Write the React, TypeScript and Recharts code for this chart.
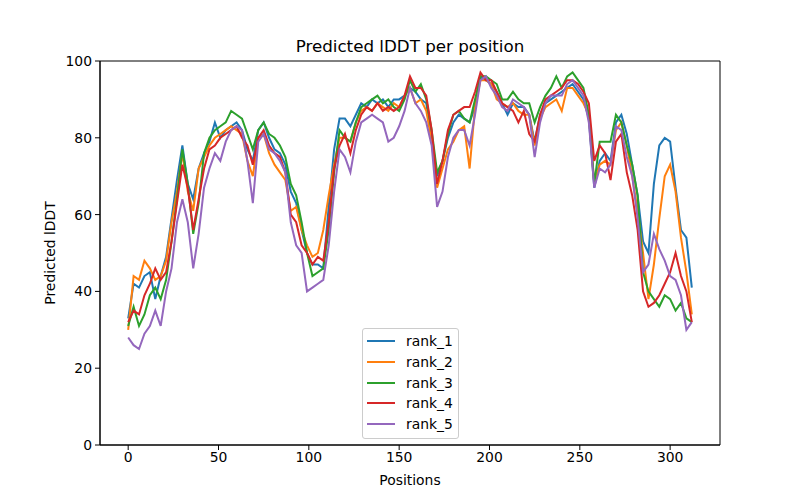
import React from 'react';
import { LineChart, Line, XAxis, YAxis, ReferenceArea } from 'recharts';

const positions = [
  0, 3, 6, 9, 12, 15, 18, 21, 24, 27, 30, 33, 36, 39, 42, 45, 48, 51, 54, 57,
  60, 63, 66, 69, 72, 75, 78, 81, 84, 87, 90, 93, 96, 99, 102, 105, 108, 111, 114, 117,
  120, 123, 126, 129, 132, 135, 138, 141, 144, 147, 150, 153, 156, 159, 162, 165, 168, 171, 174, 177,
  180, 183, 186, 189, 192, 195, 198, 201, 204, 207, 210, 213, 216, 219, 222, 225, 228, 231, 234, 237,
  240, 243, 246, 249, 252, 255, 258, 261, 264, 267, 270, 273, 276, 279, 282, 285, 288, 291, 294, 297,
  300, 303, 306, 309, 312,
];

const rank1 = [
  33, 42, 41, 44, 45, 38, 44, 49, 59, 69, 78, 68, 64, 72, 76, 79, 84, 80, 82, 83,
  84, 82, 77, 74, 82, 84, 80, 77, 76, 73, 66, 63, 56, 50, 47, 47, 46, 62, 77, 85,
  85, 83, 86, 89, 88, 90, 89, 90, 88, 90, 90, 91, 93, 92, 90, 89, 80, 70, 74, 80,
  84, 86, 85, 84, 88, 96, 95, 94, 92, 89, 86, 89, 88, 88, 86, 79, 86, 89, 90, 91,
  92, 93, 94, 92, 90, 85, 67, 74, 76, 74, 84, 86, 81, 73, 65, 53, 50, 68, 78, 80,
  79, 67, 56, 54, 41,
];

const rank2 = [
  30, 44, 43, 48, 46, 43, 44, 48, 58, 66, 76, 66, 61, 72, 75, 78, 80, 81, 82, 83,
  82, 81, 74, 70, 80, 81, 76, 73, 71, 69, 61, 62, 56, 52, 49, 50, 56, 65, 73, 80,
  80, 79, 84, 87, 88, 87, 89, 88, 87, 89, 88, 91, 93, 89, 90, 87, 79, 67, 72, 77,
  79, 82, 83, 72, 88, 95, 95, 94, 90, 89, 88, 89, 87, 86, 86, 78, 85, 88, 89, 90,
  87, 93, 93, 91, 89, 86, 68, 73, 74, 73, 82, 84, 78, 70, 61, 50, 38, 47, 59, 70,
  73, 66, 54, 45, 34,
];

const rank3 = [
  31, 36, 31, 34, 39, 41, 38, 43, 53, 64, 77, 68, 55, 63, 76, 80, 82, 83, 84, 87,
  86, 85, 81, 77, 82, 84, 81, 80, 78, 75, 68, 65, 58, 50, 44, 45, 46, 56, 71, 82,
  80, 79, 84, 88, 89, 90, 91, 89, 90, 88, 87, 90, 95, 92, 94, 90, 82, 71, 74, 81,
  86, 87, 85, 84, 90, 96, 96, 95, 94, 90, 90, 92, 90, 89, 89, 84, 88, 91, 93, 96,
  93, 96, 97, 95, 93, 86, 68, 79, 79, 79, 86, 84, 78, 73, 65, 45, 40, 38, 36, 39,
  38, 35, 37, 33, 32,
];

const rank4 = [
  32, 35, 34, 39, 42, 46, 43, 45, 53, 63, 73, 67, 56, 64, 72, 77, 78, 80, 81, 82,
  83, 80, 78, 73, 80, 82, 78, 76, 75, 71, 60, 58, 52, 50, 47, 49, 48, 58, 72, 78,
  81, 76, 82, 86, 88, 87, 89, 87, 88, 87, 88, 91, 96, 93, 93, 91, 82, 68, 74, 82,
  86, 87, 88, 88, 92, 97, 95, 95, 92, 89, 88, 87, 84, 87, 81, 79, 86, 90, 91, 92,
  93, 95, 95, 94, 92, 89, 74, 78, 76, 69, 79, 81, 71, 65, 56, 40, 36, 37, 39, 42,
  45, 50, 44, 40, 32,
];

const rank5 = [
  28, 26, 25, 29, 31, 35, 31, 40, 46, 58, 64, 58, 46, 55, 67, 72, 76, 74, 79, 82,
  83, 82, 74, 63, 79, 81, 77, 76, 74, 71, 58, 52, 50, 40, 41, 42, 43, 52, 66, 77,
  75, 71, 79, 84, 85, 86, 85, 84, 79, 80, 83, 87, 93, 89, 87, 84, 78, 62, 66, 75,
  80, 82, 82, 78, 86, 95, 96, 93, 91, 88, 87, 90, 89, 88, 86, 75, 84, 89, 91, 91,
  91, 94, 95, 93, 91, 84, 67, 72, 71, 73, 83, 82, 75, 70, 59, 45, 47, 55, 51, 48,
  44, 43, 39, 30, 32,
];

const seriesNames = ['rank_1', 'rank_2', 'rank_3', 'rank_4', 'rank_5'];
const seriesValues = [rank1, rank2, rank3, rank4, rank5];
const colors = ['#1f77b4', '#ff7f0e', '#2ca02c', '#d62728', '#9467bd'];
const xTicks = [0, 50, 100, 150, 200, 250, 300];
const yTicks = [0, 20, 40, 60, 80, 100];

const data = positions.map((pos, i) => {
  const row: Record<string, number> = { pos };
  seriesNames.forEach((name, s) => {
    row[name] = seriesValues[s][i];
  });
  return row;
});

const font = '"DejaVu Sans", sans-serif';
const tickStyle = { fill: '#000', fontSize: 13.9, fontFamily: font };

// legend drawn as an overlay so the chart does not reserve space for it
const BoxLegend = () => (
  <div
    style={{
      position: 'absolute',
      left: 362,
      top: 328,
      width: 95,
      border: '1px solid #cccccc',
      borderRadius: 3,
      background: 'rgba(255,255,255,0.8)',
      padding: '2px 0 4px 0',
      fontFamily: font,
      fontSize: 13.9,
      color: '#000',
    }}
  >
    {seriesNames.map((name, i) => (
      <div key={name} style={{ display: 'flex', alignItems: 'center', height: 20.7 }}>
        <div style={{ flexShrink: 0, width: 28, height: 2, marginLeft: 4, background: colors[i] }} />
        <span style={{ marginLeft: 11, whiteSpace: 'nowrap' }}>{name}</span>
      </div>
    ))}
  </div>
);

export default function App() {
  return (
    <div style={{ position: 'relative', width: 800, height: 500, background: '#fff' }}>
      <style>{'body{margin:0}'}</style>
      <div
        style={{
          position: 'absolute',
          left: 100,
          width: 620,
          top: 36,
          lineHeight: '20px',
          textAlign: 'center',
          fontFamily: font,
          fontSize: 16.7,
          color: '#000',
        }}
      >
        Predicted lDDT per position
      </div>
      <LineChart
        width={800}
        height={500}
        data={data}
        margin={{ top: 61, right: 80, bottom: 10, left: 40 }}
      >
        <XAxis
          dataKey="pos"
          type="number"
          domain={[-15.6, 327.6]}
          ticks={xTicks}
          allowDataOverflow
          height={45}
          tickSize={5}
          tickMargin={2}
          tick={tickStyle}
          stroke="#000"
          label={{ value: 'Positions', position: 'insideBottom', offset: 5, fill: '#000', fontSize: 13.9, fontFamily: font }}
        />
        <YAxis
          type="number"
          domain={[0, 100]}
          ticks={yTicks}
          allowDataOverflow
          width={60}
          tickSize={5}
          tickMargin={3}
          tick={tickStyle}
          stroke="#000"
          label={{
            value: 'Predicted lDDT',
            angle: -90,
            position: 'insideLeft',
            offset: 10,
            fill: '#000',
            fontSize: 13.9,
            fontFamily: font,
            style: { textAnchor: 'middle' },
          }}
        />
        {seriesNames.map((name, i) => (
          <Line
            key={name}
            dataKey={name}
            stroke={colors[i]}
            strokeWidth={2}
            dot={false}
            isAnimationActive={false}
            type="linear"
          />
        ))}
        <ReferenceArea
          x1={-15.6}
          x2={327.6}
          y1={0}
          y2={100}
          fill="none"
          stroke="#000"
          strokeWidth={1}
          ifOverflow="visible"
        />
      </LineChart>
      <BoxLegend />
    </div>
  );
}
